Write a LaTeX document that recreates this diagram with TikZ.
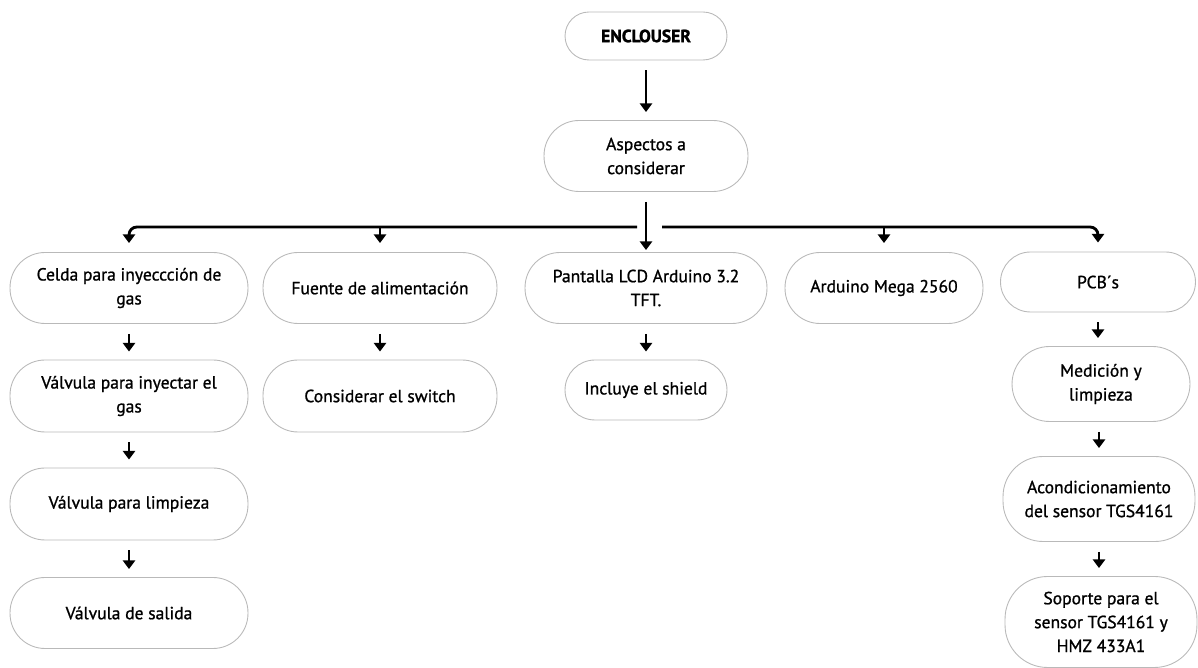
\documentclass[tikz,border=0pt]{standalone}
\usepackage{fontspec}
\setmainfont{PT Sans}[UprightFeatures={FakeBold=1}, BoldFeatures={FakeBold=1.5}]
\usetikzlibrary{arrows.meta}

\tikzset{
  box/.style={draw=gray!55, line width=0.5pt, rounded corners=7mm, align=center,
    text=black, font=\fontsize{10}{13.6}\selectfont,
    minimum height=14.2mm, inner sep=1pt},
  conn/.style={line width=1.6pt, -{Triangle[length=5pt,width=7pt]},
    shorten <=2mm, shorten >=1.6mm},
  bus/.style={line width=1.6pt, -{Triangle[length=5pt,width=7pt]},
    shorten >=1.8mm, rounded corners=4.5pt}
}

\begin{document}
\begin{tikzpicture}[x=0.02cm, y=-0.02cm]
\useasboundingbox (0,0) rectangle (1198,668);

% Top
\node[box, minimum width=32.4mm, minimum height=9.6mm, rounded corners=4.8mm,
  font=\bfseries\fontsize{10}{12}\selectfont] (enc) at (646,36) {ENCLOUSER};
\node[box, minimum width=40.8mm] (asp) at (646,156) {Aspectos a\\considerar};

% First row
\node[box, minimum width=47.6mm] (celda) at (129,288) {Celda para inyeccción de\\gas};
\node[box, minimum width=46.8mm] (fuente) at (380,288) {Fuente de alimentación};
\node[box, minimum width=48.4mm] (pant) at (646,288) {Pantalla LCD Arduino 3.2\\TFT.};
\node[box, minimum width=39.6mm] (mega) at (884,288) {Arduino Mega 2560};
\node[box, minimum width=39mm, minimum height=12mm, rounded corners=6mm] (pcb) at (1098,282) {PCB´s};

% Columns
\node[box, minimum width=47.6mm, minimum height=14.4mm] (vinj) at (129,396) {Válvula para inyectar el\\gas};
\node[box, minimum width=47.6mm, minimum height=14.4mm] (vlimp) at (129,504) {Válvula para limpieza};
\node[box, minimum width=47.6mm] (vsal) at (129,613) {Válvula de salida};
\node[box, minimum width=46.8mm, minimum height=14.4mm] (switch) at (380,396) {Considerar el switch};
\node[box, minimum width=32.4mm, minimum height=12mm, rounded corners=6mm] (shield) at (646,390) {Incluye el shield};
\node[box, minimum width=35.6mm, minimum height=15mm, rounded corners=7.5mm] (medic) at (1101,384) {Medición y\\limpieza};
\node[box, minimum width=38.4mm, minimum height=17mm, rounded corners=8mm] (acond) at (1099,499) {Acondicionamiento\\del sensor TGS4161};
\node[box, minimum width=38.4mm, minimum height=18.2mm, rounded corners=8.5mm] (soporte) at (1101,622) {Soporte para el\\sensor TGS4161 y\\HMZ 433A1};

% Bus
\coordinate (busL) at (637,227);
\coordinate (busR) at (662,227);

% Arrows
\draw[conn] (enc) -- (asp);
\draw[conn, shorten >=0.4mm] (asp) -- (pant);
\draw[bus] (busL) -| (celda.north);
\draw[bus] (busR) -| (pcb.north);
\draw[bus] (fuente.north |- busL) -- (fuente.north);
\draw[bus] (mega.north |- busL) -- (mega.north);
\draw[conn] (celda) -- (vinj);
\draw[conn] (vinj) -- (vlimp);
\draw[conn] (vlimp) -- (vsal);
\draw[conn] (fuente) -- (switch);
\draw[conn] (pant) -- (shield);
\draw[conn] (pcb) -- (pcb |- medic.north);
\draw[conn] (medic.south -| acond) -- (acond);
\draw[conn] (acond) -- (acond |- soporte.north);
\end{tikzpicture}
\end{document}
